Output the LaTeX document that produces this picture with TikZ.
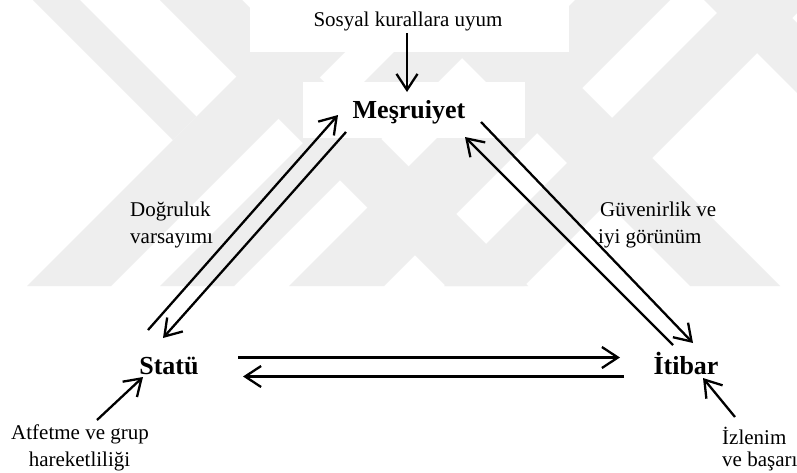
\documentclass[tikz,border=0pt]{standalone}
\usepackage{fontspec}
\setmainfont{Liberation Serif}
\usetikzlibrary{arrows.meta}
\definecolor{wmgrey}{HTML}{EEEEEE}
\begin{document}
\begin{tikzpicture}[x=1pt,y=-1pt,
  lbl/.style={inner sep=0pt,font=\fontsize{21}{26}\selectfont},
  concept/.style={inner sep=0pt,font=\fontsize{26}{30}\selectfont\bfseries},
  band/.style={fill=wmgrey},
  link/.style={line width=2.3pt,-{Straight Barb[length=16pt,width=21pt]}}]
\useasboundingbox (0,0) rectangle (797,472);
\fill[white] (0,0) rectangle (797,472);

% faint striped mark in the upper part of the page
\begin{scope}
  \clip (0,0) rectangle (797,286);
  \fill[band] (33,0) -- (80,0) -- (196.5,116.5) -- (173,140) -- cycle;
  \fill[band] (160,0) -- (242,0) -- (528,286) -- (446,286) -- cycle;
  \fill[band] (313,0) -- (397,0) -- (111,286) -- (27,286) -- cycle;
  \fill[band] (446,0) -- (520,0) -- (234,286) -- (160,286) -- cycle;
  \fill[band] (575,0) -- (670,0) -- (384,286) -- (289,286) -- cycle;
  \fill[band] (730,0) -- (810,0) -- (524,286) -- (444,286) -- cycle;
  \fill[band] (404,0) -- (494,0) -- (780,286) -- (690,286) -- cycle;
  \fill[band] (704,0) -- (774,0) -- (1060,286) -- (990,286) -- cycle;
\end{scope}
\fill[white] (250,0) rectangle (569,52);
\fill[white] (303,82) rectangle (525,138);

% main concepts
\node[concept,anchor=base] (mes) at (409,118) {Meşruiyet};
\node[concept,anchor=base] (sta) at (169,374) {Statü};
\node[concept,anchor=base] (iti) at (686,374) {İtibar};

% side labels
\node[lbl,anchor=base] (soz) at (408,26.5) {Sosyal kurallara uyum};
\node[lbl,anchor=base west] (dog1) at (130,216.7) {Doğruluk};
\node[lbl,anchor=base west] (dog2) at (130,243) {varsayımı};
\node[lbl,anchor=base west] (guv1) at (600,216.7) {Güvenirlik ve};
\node[lbl,anchor=base west] (guv2) at (598,243) {iyi görünüm};
\node[lbl,anchor=base] (atf1) at (80,439) {Atfetme ve grup};
\node[lbl,anchor=base] (atf2) at (79.5,466) {hareketliliği};
\node[lbl,anchor=base west] (izl1) at (722,444) {İzlenim};
\node[lbl,anchor=base west] (izl2) at (722,466) {ve başarı};

% connector end points
\coordinate (sozA) at (407,33);   \coordinate (mesT) at (407,92);
\coordinate (staU) at (148,330);  \coordinate (mesL) at (338,115);
\coordinate (mesL2) at (346,132); \coordinate (staU2) at (163,338);
\coordinate (mesR) at (481,122);  \coordinate (itiU) at (693,343);
\coordinate (itiU2) at (673,345); \coordinate (mesR2) at (465,137);
\coordinate (staR) at (238,357.5);\coordinate (itiL) at (620,357.5);
\coordinate (itiL2) at (624,376.5);\coordinate (staR2) at (243,376.5);
\coordinate (atfT) at (97,420);   \coordinate (staB) at (143,377);
\coordinate (izlT) at (735,417);  \coordinate (itiB) at (703,378);

% connectors
\draw[link] (sozA) -- (mesT);
\draw[link] (staU) -- (mesL);
\draw[link] (mesL2) -- (staU2);
\draw[link] (mesR) -- (itiU);
\draw[link] (itiU2) -- (mesR2);
\draw[link] (staR) -- (itiL);
\draw[link] (itiL2) -- (staR2);
\draw[link] (atfT) -- (staB);
\draw[link] (izlT) -- (itiB);
\end{tikzpicture}
\end{document}
